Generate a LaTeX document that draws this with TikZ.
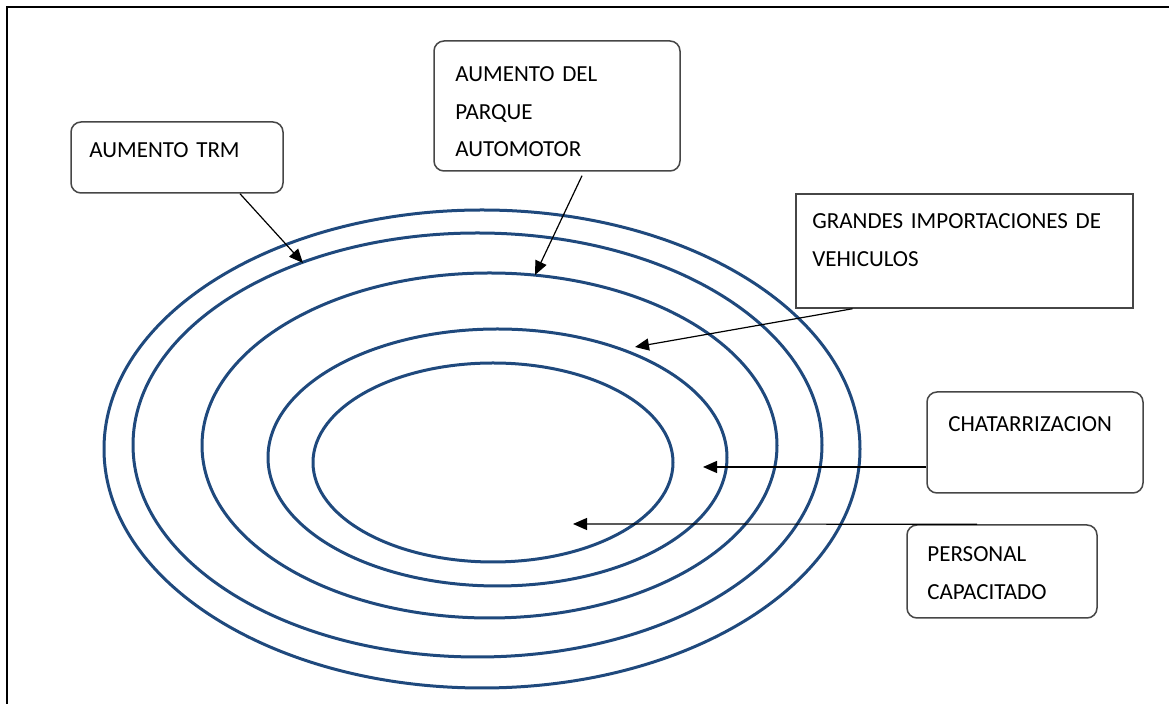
\documentclass[tikz,border=0pt]{standalone}
\usepackage{fontspec}
\setmainfont{Carlito}
\usetikzlibrary{arrows.meta}
\definecolor{ringblue}{RGB}{31,73,125}
\definecolor{boxgray}{RGB}{70,70,70}
\tikzset{
  box/.style={draw=boxgray, line width=0.75pt, fill=white, inner sep=0pt},
  rbox/.style={box, rounded corners=5pt},
  txt/.style={anchor=base west, inner sep=0pt, align=left, text width=165pt,
    font=\fontsize{11.5pt}{18.75pt}\selectfont},
  ring/.style={draw=ringblue, line width=1.5pt},
  arr/.style={-{Triangle[length=7pt,width=6pt]}, line width=0.6pt}
}
\begin{document}
\begin{tikzpicture}[x=0.5pt,y=-0.5pt]

            \useasboundingbox (0,0) rectangle (1169,704);
            \draw[line width=1.1pt] (7,704) -- (7,7) -- (1169,7);

            \draw[ring] (482,449) ellipse [x radius=189pt, y radius=119.5pt];
            \draw[ring] (477.5,445) ellipse [x radius=172.25pt, y radius=106pt];
            \draw[ring] (489.5,445.5) ellipse [x radius=143.75pt, y radius=86.25pt];
            \draw[ring] (497.5,457.5) ellipse [x radius=114.75pt, y radius=64.25pt];
            \draw[ring] (493,462.5) ellipse [x radius=90pt, y radius=49.75pt];

            \node[rbox, minimum width=106pt, minimum height=35.5pt] (trm) at (177,157.5) {};
            \node[txt] (trmtxt) at (89,158) {AUMENTO TRM};

            \node[rbox, minimum width=123pt, minimum height=65pt] (parque) at (557,106) {};
            \node[txt] (parquetxt) at (455,82) {AUMENTO DEL\\PARQUE\\AUTOMOTOR};

            \node[box, minimum width=168.5pt, minimum height=57pt] (import) at (964.5,251) {};
            \node[txt] (importtxt) at (812,229) {GRANDES IMPORTACIONES DE\\VEHICULOS};

            \node[rbox, minimum width=108pt, minimum height=50.5pt] (chatarra) at (1035,442.5) {};
            \node[txt] (chatarratxt) at (948,432) {CHATARRIZACION};

            \node[rbox, minimum width=95pt, minimum height=46.5pt] (personal) at (1002,571.5) {};
            \node[txt] (personaltxt) at (927,562) {PERSONAL\\CAPACITADO};

            \coordinate (ring2) at (303,263);
            \coordinate (ring3) at (535,275);
            \coordinate (ring4) at (635,347);
            \coordinate (ring5) at (703,467);
            \coordinate (centro) at (573,524);

            \draw[arr] ([xshift=31.5pt]trm.south) -- (ring2);
            \draw[arr] ([xshift=12.5pt,yshift=-2pt]parque.south) -- (ring3);
            \draw[arr] ([xshift=-56pt]import.south) -- (ring4);
            \draw[arr] (chatarra.west |- ring5) -- (ring5);
            \draw[arr] ([xshift=-12.5pt]personal.north) -- (centro);

        \end{tikzpicture}
\end{document}
